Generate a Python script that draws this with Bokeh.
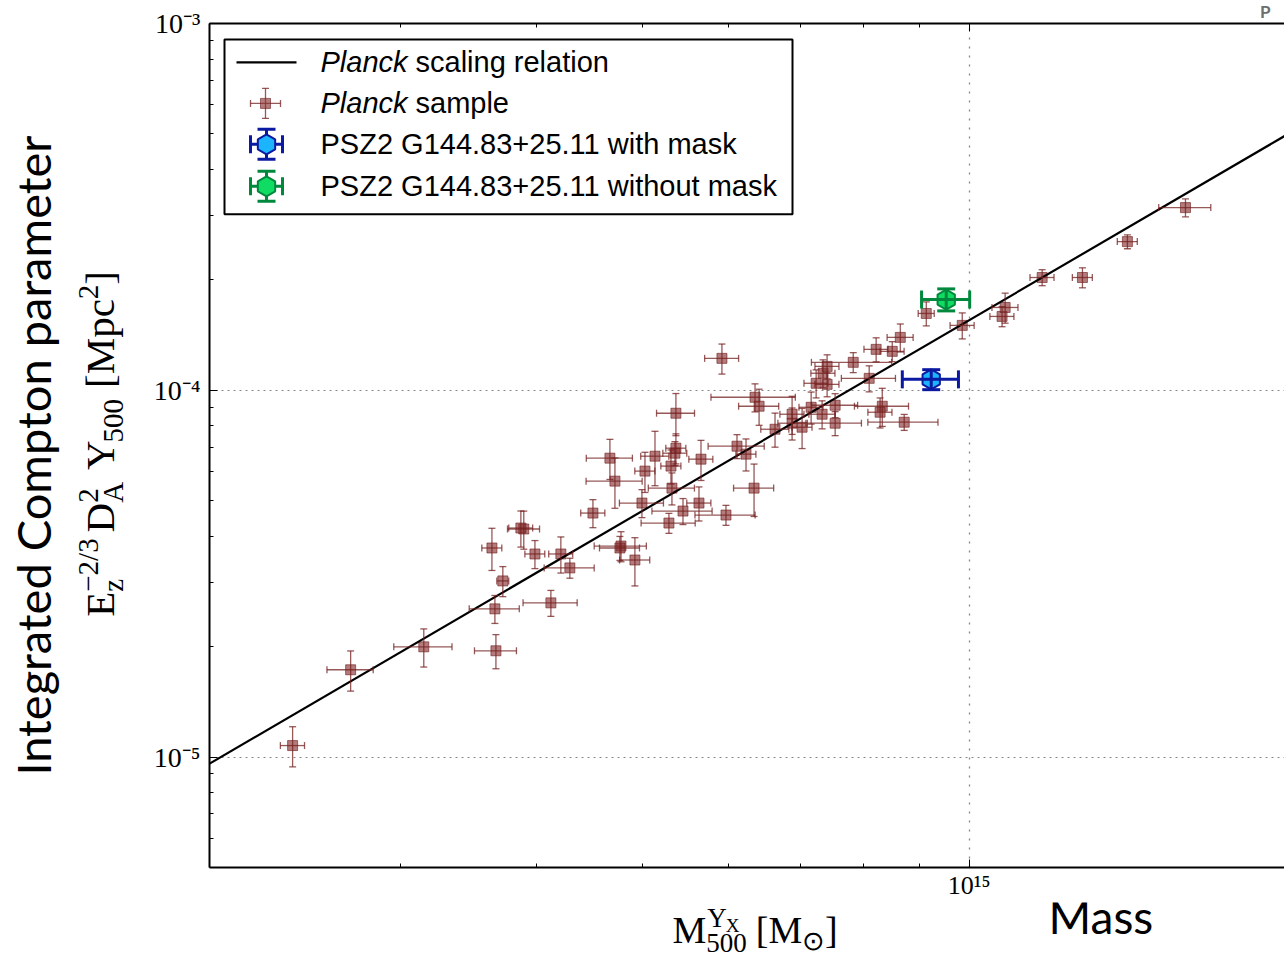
import numpy as np
from math import pi
from bokeh.plotting import figure
from bokeh.models import (ColumnDataSource, Whisker, TeeHead, Range1d, LinearScale,
                          FixedTicker, CustomJSTickFormatter, LogAxis, GridBox, Title)
from bokeh.core.properties import value
from bokeh.embed import file_html
from bokeh.resources import INLINE

# ---------------- data ----------------
# Planck sample: mass [1e14 Msun], Y [1e-5 Mpc^2]
planck_mass = [2.385, 2.697, 3.149, 3.669, 3.661, 4.122, 3.723, 3.638, 3.892, 3.868,
               3.985, 4.210, 4.291, 4.506, 4.782, 4.771, 4.925, 4.671, 4.721, 5.031,
               5.139, 5.372, 5.361, 5.316, 5.665, 5.327, 4.999, 5.641, 5.453, 5.973,
               5.293, 5.372, 5.922, 6.114, 6.232, 6.339, 6.352, 6.407, 6.627, 6.871,
               6.871, 7.018, 7.154, 7.322, 7.527, 7.527, 7.230, 7.400, 7.337, 7.400,
               7.821, 8.090, 8.210, 8.495, 8.641, 8.317, 8.279, 8.713, 9.130, 9.853,
               10.72, 10.79, 11.67, 12.71, 13.98, 15.81]
planck_mass_err = [0.061, 0.132, 0.194, 0.163, 0.194, 0.236, 0.047, 0.077, 0.132, 0.098,
                   0.084, 0.107, 0.227, 0.115, 0.264, 0.202, 0.157, 0.228, 0.280, 0.107,
                   0.153, 0.114, 0.136, 0.113, 0.144, 0.260, 0.233, 0.144, 0.347, 0.380,
                   0.303, 0.216, 0.213, 0.363, 0.132, 0.269, 0.566, 0.272, 0.197, 0.175,
                   0.204, 0.149, 0.182, 0.202, 0.367, 0.431, 0.184, 0.188, 0.187, 0.188,
                   0.663, 0.463, 0.209, 0.216, 0.238, 0.476, 0.211, 0.646, 0.155, 0.251,
                   0.273, 0.297, 0.297, 0.269, 0.296, 0.871]
planck_Y = [1.075, 1.730, 1.998, 1.949, 2.536, 2.633, 3.022, 3.716, 4.186, 4.212,
            3.579, 3.579, 3.279, 4.627, 3.762, 3.716, 3.446, 6.531, 5.654, 6.021,
            6.612, 6.953, 6.738, 6.214, 6.490, 5.411, 4.927, 4.927, 4.686, 4.570,
            4.346, 8.659, 12.22, 7.040, 6.697, 5.411, 9.572, 9.048, 7.831, 8.605,
            8.133, 7.930, 8.989, 8.605, 9.104, 8.133, 10.45, 10.38, 11.13, 11.62,
            11.92, 10.78, 12.93, 12.77, 13.94, 9.048, 8.713, 8.184, 16.20, 15.03,
            15.90, 16.82, 20.30, 20.30, 25.43, 31.48]
planck_Y_err = [0.135, 0.217, 0.238, 0.208, 0.222, 0.214, 0.284, 0.489, 0.498, 0.475,
                0.314, 0.404, 0.205, 0.406, 0.354, 0.279, 0.518, 0.818, 0.886, 0.755,
                1.119, 0.654, 0.507, 0.662, 0.813, 0.542, 0.432, 0.525, 0.382, 0.286,
                0.272, 1.139, 1.149, 0.529, 0.671, 0.882, 0.840, 1.021, 0.834, 1.024,
                0.815, 0.994, 0.901, 0.755, 0.685, 0.612, 0.917, 0.780, 0.976, 0.874,
                0.747, 0.878, 0.972, 0.800, 1.223, 1.077, 0.819, 0.410, 1.218, 1.224,
                0.996, 1.581, 1.018, 1.272, 1.115, 1.775]

# PSZ2 G144.83+25.11
mask_mass, mask_mass_err = [9.226], [0.548]
mask_Y, mask_Y_err = [10.71], [0.671]
nomask_mass, nomask_mass_err = [9.524], [0.485]
nomask_Y, nomask_Y_err = [17.68], [1.219]

# Planck scaling relation  Y = norm * (M / pivot)^slope
rel_pivot_mass = 6e14
rel_norm = 6.42e-5
rel_slope = 1.73

mass_range = (2e14, 1.95e15)
Y_range = (5e-6, 1e-3)
y_major = [1e-5, 1e-4, 1e-3]
x_major = [1e15]

MU, YU = 1e14, 1e-5

# ---------------- page geometry ----------------
W, H = 1284, 957
LW = 145                      # left text strip width
FL, FT, FB = 209, 22, 867     # frame left / top / bottom on the page
MH = 902                      # main figure height
MW = W - LW
FW, FH = W - FL, FB - FT

p = figure(width=MW, height=MH, x_axis_type="log", y_axis_type="log",
           x_range=Range1d(*mass_range), y_range=Range1d(*Y_range),
           output_backend="svg", toolbar_location=None, title_location=None,
           min_border_left=FL - LW, min_border_right=0, min_border_top=FT,
           min_border_bottom=MH - FB)
p.outline_line_color = None
p.background_fill_color = "white"
p.border_fill_color = "white"
p.extra_x_ranges = {"px": Range1d(0, FW)}
p.extra_y_ranges = {"py": Range1d(FH, 0)}
p.extra_x_scales = {"px": LinearScale()}
p.extra_y_scales = {"py": LinearScale()}

def minors(lo, hi):
    out = []
    for d in range(-7, 17):
        for k in range(2, 10):
            v = k * 10.0 ** d
            if lo * 0.999 <= v <= hi * 1.001:
                out.append(v)
    return out

xt = FixedTicker(ticks=x_major, minor_ticks=minors(*mass_range))
yt = FixedTicker(ticks=y_major, minor_ticks=minors(*Y_range))

fmt_code = """
const e = Math.round(Math.log10(tick));
const m = {"-":"\u207b","0":"\u2070","1":"\u00b9","2":"\u00b2","3":"\u00b3","4":"\u2074","5":"\u2075","6":"\u2076","7":"\u2077","8":"\u2078","9":"\u2079"};
let s = "";
for (const c of String(e)) { s += m[c]; }
return "10" + s;
"""

for ax, tk in ((p.xaxis[0], xt), (p.yaxis[0], yt)):
    ax.ticker = tk
    ax.formatter = CustomJSTickFormatter(code=fmt_code)
    ax.axis_line_width = 2
    ax.axis_line_color = "black"
    ax.major_tick_in = 8
    ax.major_tick_out = 0
    ax.minor_tick_in = 4
    ax.minor_tick_out = 0
    ax.major_tick_line_width = 1
    ax.minor_tick_line_width = 1
    ax.major_label_text_font = "Liberation Serif"
    ax.major_label_text_color = "black"
p.yaxis[0].major_label_text_font_size = "28px"
p.yaxis[0].major_label_standoff = 9
p.xaxis[0].major_label_text_font_size = "26px"
p.xaxis[0].major_label_standoff = 3

top_ax = LogAxis(ticker=xt, axis_line_width=2, major_tick_in=8, major_tick_out=0,
                 minor_tick_in=4, minor_tick_out=0, major_label_text_font_size="1px",
                 major_label_text_alpha=0, major_label_standoff=0,
                 formatter=CustomJSTickFormatter(code="return ' ';"))
p.add_layout(top_ax, "above")
p.add_layout(Title(text="P", align="right", offset=14, standoff=0, vertical_align="top",
                   text_font="Lato", text_font_size="17px", text_font_style="bold",
                   text_color="#6e6e6e"), "above")

p.xgrid.ticker = xt
p.ygrid.ticker = yt
p.xgrid.grid_line_color = "#888888"
p.xgrid.grid_line_dash = "2 7"
p.xgrid.grid_line_width = 1.3
p.ygrid.grid_line_color = "#888888"
p.ygrid.grid_line_dash = "2 4"
p.ygrid.grid_line_width = 1

# ---------------- Planck sample ----------------
pm = np.array(planck_mass) * MU
pme = np.array(planck_mass_err) * MU
py_ = np.array(planck_Y) * YU
pye = np.array(planck_Y_err) * YU
src = ColumnDataSource(dict(x=pm, y=py_, xl=pm - pme, xu=pm + pme, yl=py_ - pye, yu=py_ + pye))

brown_line = "#742020"
for dim, base, lo, hi in (("width", "y", "xl", "xu"), ("height", "x", "yl", "yu")):
    p.add_layout(Whisker(source=src, base=base, lower=lo, upper=hi, dimension=dim,
                         line_color=brown_line, line_alpha=0.75, line_width=1.3, level="glyph",
                         upper_head=TeeHead(size=7, line_color=brown_line, line_alpha=0.75, line_width=1.3),
                         lower_head=TeeHead(size=7, line_color=brown_line, line_alpha=0.75, line_width=1.3)))
p.scatter("x", "y", source=src, marker="square", size=10, fill_color="#8a3434",
          fill_alpha=0.65, line_color="#6a1a1a", line_alpha=0.6, line_width=1)

# ---------------- scaling relation ----------------
rel_m = np.array(mass_range)
rel_y = rel_norm * (rel_m / rel_pivot_mass) ** rel_slope
p.line(rel_m, rel_y, line_color="black", line_width=2.2)

# ---------------- PSZ2 points ----------------
def psz(mass, merr, Y, yerr, edge, fill):
    m = np.array(mass) * MU; me = np.array(merr) * MU
    y = np.array(Y) * YU; ye = np.array(yerr) * YU
    s = ColumnDataSource(dict(x=m, y=y, xl=m - me, xu=m + me, yl=y - ye, yu=y + ye))
    for dim, base, lo, hi in (("width", "y", "xl", "xu"), ("height", "x", "yl", "yu")):
        p.add_layout(Whisker(source=s, base=base, lower=lo, upper=hi, dimension=dim,
                             line_color=edge, line_width=3, level="glyph",
                             upper_head=TeeHead(size=18, line_color=edge, line_width=3),
                             lower_head=TeeHead(size=18, line_color=edge, line_width=3)))
    p.scatter("x", "y", source=s, marker="hex", angle=pi / 2, size=20,
              fill_color=fill, line_color=edge, line_width=2)

psz(mask_mass, mask_mass_err, mask_Y, mask_Y_err, "#0b1aa0", "#1cb4fc")
psz(nomask_mass, nomask_mass_err, nomask_Y, nomask_Y_err, "#00893c", "#10dc64")

# ---------------- legend (built by hand, frame pixel coords) ----------------
def fx(cx): return cx - FL
def fy(cy): return cy - FT

PX = dict(x_range_name="px", y_range_name="py")
p.quad(left=[fx(224)], right=[fx(792)], top=[fy(38)], bottom=[fy(213)],
       fill_color="white", line_color="black", line_width=2, **PX)
p.line([fx(236), fx(296)], [fy(61), fy(61)], line_color="black", line_width=2.2, **PX)

def sample(cx, cy, hx, hy, cap, color, alpha, lw):
    xs0 = [fx(cx - hx), fx(cx), fx(cx - hx), fx(cx + hx), fx(cx - cap), fx(cx - cap)]
    xs1 = [fx(cx + hx), fx(cx), fx(cx - hx), fx(cx + hx), fx(cx + cap), fx(cx + cap)]
    ys0 = [fy(cy), fy(cy - hy), fy(cy - cap), fy(cy - cap), fy(cy - hy), fy(cy + hy)]
    ys1 = [fy(cy), fy(cy + hy), fy(cy + cap), fy(cy + cap), fy(cy - hy), fy(cy + hy)]
    p.segment(xs0, ys0, xs1, ys1, line_color=color, line_alpha=alpha, line_width=lw, **PX)

sample(265, 102, 15, 15, 3.5, brown_line, 0.75, 1.3)
p.scatter([fx(265)], [fy(102)], marker="square", size=10, fill_color="#8a3434", fill_alpha=0.65,
          line_color="#6a1a1a", line_alpha=0.6, **PX)
sample(266, 143, 16, 15, 9, "#0b1aa0", 1, 3)
p.scatter([fx(266)], [fy(143)], marker="hex", angle=pi / 2, size=20, fill_color="#1cb4fc",
          line_color="#0b1aa0", line_width=2, **PX)
sample(266, 185, 16, 15, 9, "#00893c", 1, 3)
p.scatter([fx(266)], [fy(185)], marker="hex", angle=pi / 2, size=20, fill_color="#10dc64",
          line_color="#00893c", line_width=2, **PX)

LF = value("Liberation Sans")
p.text([fx(320), fx(320)], [fy(61), fy(102)], text=["Planck", "Planck"], text_font=LF,
       text_font_size="29px", text_font_style="italic", text_baseline="middle", **PX)
p.text([fx(415), fx(415), fx(320), fx(320)], [fy(61), fy(102), fy(143), fy(185)],
       text=["scaling relation", "sample", "PSZ2 G144.83+25.11 with mask",
             "PSZ2 G144.83+25.11 without mask"],
       text_font=LF, text_font_size="29px", text_baseline="middle", **PX)

# ---------------- text strips (page pixel coordinates) ----------------
def strip(width, height, xr, yr, bl, bt, bb):
    f = figure(width=width, height=height, x_range=Range1d(*xr), y_range=Range1d(*yr),
               output_backend="svg", toolbar_location=None, title_location=None,
               min_border_left=bl, min_border_right=0, min_border_top=bt, min_border_bottom=bb,
               x_axis_location=None, y_axis_location=None)
    f.grid.visible = False
    f.background_fill_color = "white"
    f.border_fill_color = "white"
    f.outline_line_color = None
    return f

left = strip(LW, MH, (0, LW), (FB, FT), 0, FT, MH - FB)
bottom = strip(MW, H - MH, (FL, W), (H, MH), FL - LW, 0, 0)

TW = {'E': 611, 'z': 444, 'D': 722, 'A': 722, 'Y': 722, 'X': 722, 'M': 889, 'p': 500,
      'c': 444, '[': 333, ']': 333, ' ': 250, '/': 278, '\u2212': 564, '\u2299': 840}
def tw(s, size):
    return sum(TW.get(ch, 500) for ch in s) * size / 1000.0

K = 0.42  # measured offset of the rendered baseline (fraction of font size)

def lab(f, text, bx_, by_, size, font="Liberation Serif", angle=0.0, style="normal",
        color="black"):
    # (bx_, by_) = wanted start of the baseline on the page
    if angle:
        bx_ = bx_ - K * size
    else:
        by_ = by_ - K * size
    f.text([bx_], [by_], text=[text], text_font=value(font), text_font_size=f"{size}px",
           angle=angle, text_align="left", text_baseline="alphabetic",
           text_color=color, text_font_style=style)

# y label: E_z^{-2/3} D_A^2 Y_500 [Mpc^2], rotated, reading upward
S, s = 41, 29
bx, subx, supx = 117, 125, 100
yy = 616
lab(left, "E", bx, yy, S, angle=pi / 2); yy -= tw("E", S)
lab(left, "z", subx, yy, s, angle=pi / 2); lab(left, "\u22122/3", supx, yy, s, angle=pi / 2)
yy -= tw("\u22122/3", s) + 6
lab(left, "D", bx, yy, S, angle=pi / 2); yy -= tw("D", S)
lab(left, "A", subx, yy, s, angle=pi / 2); lab(left, "2", supx, yy, s, angle=pi / 2)
yy -= tw("A", s) + 12
lab(left, "Y", bx, yy, S, angle=pi / 2); yy -= tw("Y", S) - 2
lab(left, "500", subx, yy, s, angle=pi / 2); yy -= tw("500", s) + 11
lab(left, "[Mpc", bx, yy, S, angle=pi / 2); yy -= tw("[Mpc", S)
lab(left, "2", supx, yy, s, angle=pi / 2); yy -= tw("2", s)
lab(left, "]", bx, yy, S, angle=pi / 2)

lab(left, "Integrated Compton parameter", 52, 775, 47, font="Lato", angle=pi / 2)

# x label: M_500^{Y_X} [M_sun]
S, s = 38, 27
xx = 672
lab(bottom, "M", xx, 945, S); xx += tw("M", S)
lab(bottom, "Y", xx + 1, 929, s); lab(bottom, "X", xx + 1 + tw("Y", s) - 1, 933, 19)
lab(bottom, "500", xx, 954, s)
xx += max(tw("Y", s) + tw("X", 19), tw("500", s)) + 9
lab(bottom, "[M", xx, 945, S); xx += tw("[M", S)
lab(bottom, "\u2299", xx, 952, s); xx += tw("\u2299", s)
lab(bottom, "]", xx, 945, S)

lab(bottom, "Mass", 1048, 935, 46, font="Lato")

root = GridBox(children=[(left, 0, 0), (p, 0, 1), (bottom, 1, 1)], spacing=0)
open("out.html", "w").write(file_html(root, INLINE))
